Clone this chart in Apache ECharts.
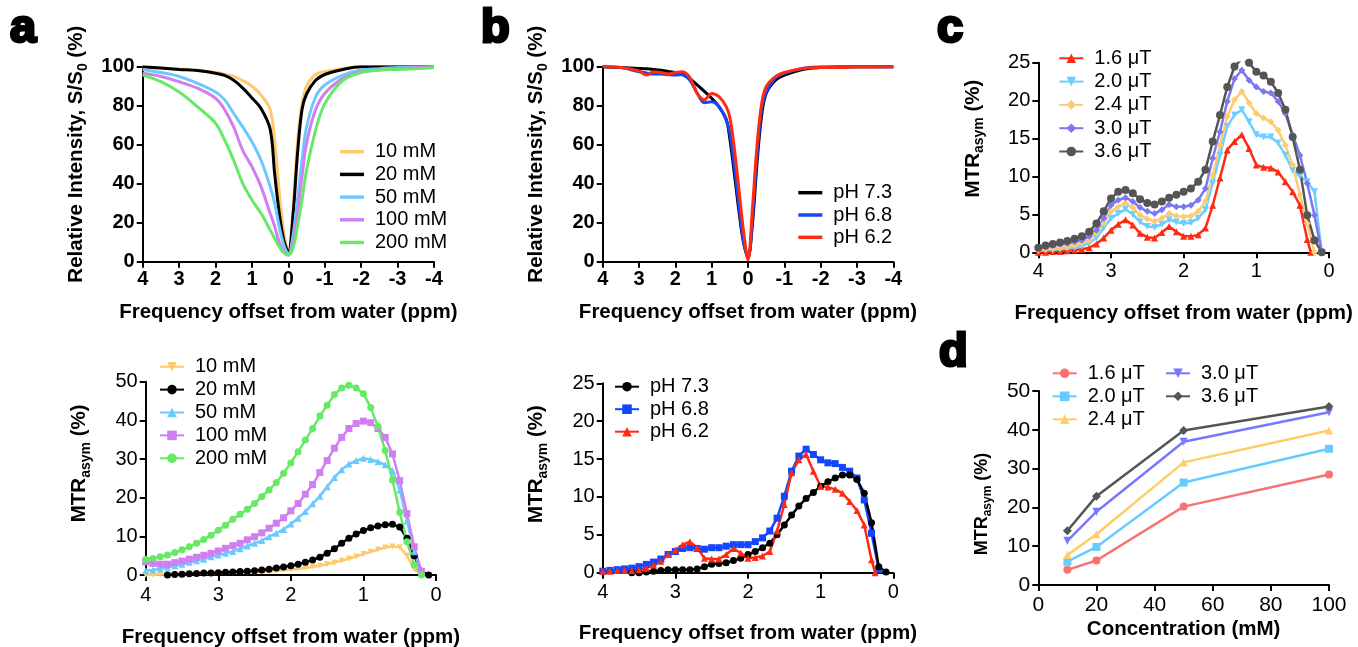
<!DOCTYPE html>
<html><head><meta charset="utf-8">
<script src="https://cdn.jsdelivr.net/npm/echarts@6/dist/echarts.min.js"></script>
<style>html,body{margin:0;padding:0;background:#fff}#c{width:1358px;height:647px}</style>
</head><body><div id="c"></div>
<script>
// ---------- Panel a (top): Z-spectra vs concentration ----------
const aTopX = [4, 3.5, 3, 2.5, 2, 1.75, 1.5, 1.25, 1, 0.75, 0.5, 0.375, 0.25, 0.125, 0, -0.125, -0.25, -0.375, -0.5, -0.75, -1, -1.5, -2, -2.5, -3, -3.5, -4];
const aTop10 = [99.6, 99.2, 98.8, 98.2, 97, 96.2, 95, 92.8, 90, 85.5, 78, 62, 36, 15, 5, 26, 61, 81, 90, 96, 97.5, 99, 100, 100, 100, 100, 100];
const aTop20 = [100, 99.3, 98.6, 98, 96.6, 95.5, 93, 89, 84, 78.6, 68, 45, 25, 11, 5, 23, 55, 78, 86, 93, 96, 98.6, 100, 100, 100, 100, 100];
const aTop50 = [98.6, 97, 95, 91.5, 87, 83, 76, 69, 61.5, 52, 38.5, 30, 18, 8.5, 4, 13, 31.6, 52, 69, 84.6, 90.6, 95.7, 98.3, 99, 99.6, 99.8, 100];
const aTop100 = [96.6, 95, 92.3, 89, 83.8, 78, 69, 57, 48.7, 38.5, 24.8, 18, 10, 5, 3.4, 9.4, 24.8, 43.6, 60.7, 78, 86.3, 94, 97.4, 98.3, 99.1, 99.5, 100];
const aTop200 = [95.7, 92.3, 87, 79.5, 71, 62.4, 52, 40, 31.6, 24.8, 16.2, 12, 7.7, 4.6, 3.4, 6.8, 18, 31.6, 47, 67.5, 81, 93, 97, 98.3, 98.6, 99, 99.6];

// ---------- Panel a (bottom): MTRasym vs concentration ----------
const aBotX = [4.0, 3.9, 3.8, 3.7, 3.6, 3.5, 3.4, 3.3, 3.2, 3.1, 3.0, 2.9, 2.8, 2.7, 2.6, 2.5, 2.4, 2.3, 2.2, 2.1, 2.0, 1.9, 1.8, 1.7, 1.6, 1.5, 1.4, 1.3, 1.2, 1.1, 1.0, 0.9, 0.8, 0.7, 0.6, 0.5, 0.4, 0.3, 0.2, 0.1];
const aBot10 = [0, 0, 0.1, 0.1, 0.2, 0.2, 0.3, 0.3, 0.4, 0.4, 0.5, 0.5, 0.6, 0.7, 0.7, 0.8, 0.9, 1.0, 1.1, 1.3, 1.4, 1.6, 1.8, 2.1, 2.4, 2.8, 3.2, 3.7, 4.2, 4.8, 5.4, 6.0, 6.6, 7.1, 7.4, 7.2, 5.0, 1.5, 0, null];
const aBot20 = [null, null, null, 0, 0.1, 0.2, 0.3, 0.4, 0.5, 0.5, 0.6, 0.7, 0.8, 0.9, 1.0, 1.1, 1.3, 1.5, 1.8, 2.1, 2.4, 2.8, 3.3, 3.9, 4.6, 5.6, 6.8, 8.2, 9.5, 10.6, 11.5, 12.2, 12.7, 13.0, 13.1, 12.4, 9.5, 5.0, 1.0, 0];
const aBot50 = [1.1, 1.3, 1.6, 2.0, 2.4, 2.8, 3.3, 3.7, 4.1, 4.7, 5.2, 5.6, 6.1, 6.8, 7.5, 8.2, 8.9, 9.9, 10.8, 11.8, 13.2, 14.7, 16.4, 18.4, 20.4, 22.8, 25.2, 27.2, 28.7, 29.6, 30.2, 29.9, 29.3, 28.5, 27.0, 22.0, 14.0, 6.0, 0.5, null];
const aBot100 = [3.4, 3.0, 2.8, 2.8, 3.2, 3.6, 4.1, 4.6, 5.1, 5.6, 6.2, 6.9, 7.6, 8.2, 9.1, 9.9, 10.9, 12.1, 13.4, 14.8, 16.6, 18.5, 20.9, 23.4, 26.5, 29.6, 32.8, 35.6, 37.9, 39.2, 39.8, 39.4, 37.9, 35.6, 31.3, 24.4, 15.9, 7.3, 0.9, null];
const aBot200 = [4.1, 4.3, 4.7, 5.2, 5.8, 6.5, 7.3, 8.2, 9.2, 10.3, 11.6, 12.9, 14.4, 15.7, 17.0, 18.5, 20.3, 22.0, 23.9, 26.3, 29.0, 31.9, 34.9, 37.9, 41.1, 43.9, 46.7, 48.4, 49.1, 48.4, 46.9, 43.3, 38.4, 32.2, 24.6, 16.2, 8.6, 2.6, 0, null];

// ---------- Panel b (top): Z-spectra vs pH ----------
const bTopX = [4, 3.5, 3, 2.8, 2.6, 2.4, 2.2, 2, 1.8, 1.6, 1.4, 1.2, 1, 0.8, 0.6, 0.5, 0.375, 0.25, 0.125, 0, -0.125, -0.25, -0.375, -0.5, -0.75, -1, -1.5, -2, -2.5, -3, -4];
const bTop73 = [100, 99.6, 99.1, 98.9, 98.6, 98.2, 97.6, 97, 96, 93.8, 90.7, 87.3, 83.8, 79.5, 73, 63, 45, 26, 10, 2.6, 20, 51, 75, 86.3, 93, 95.7, 98.6, 99.6, 100, 100, 100];
const bTop68 = [100, 99.6, 97.4, 96.8, 96.2, 96.2, 95.9, 95.7, 96, 93, 86.5, 81.5, 82, 79.5, 72.6, 66, 49, 29, 11, 1.7, 23, 55, 78, 87, 94, 96.6, 99.1, 100, 99.8, 100, 100];
const bTop62 = [100, 99.6, 97.8, 95.7, 97.4, 97, 96.2, 97, 97.4, 94.4, 86.3, 83, 86.3, 84.6, 79.5, 74, 58, 37, 16, 0.9, 28, 60, 81, 89.7, 94.9, 97, 99.1, 99.6, 99.6, 99.8, 100];

// ---------- Panel b (bottom): MTRasym vs pH ----------
const bBotX = [4.0, 3.9, 3.8, 3.7, 3.6, 3.5, 3.4, 3.3, 3.2, 3.1, 3.0, 2.9, 2.8, 2.7, 2.6, 2.5, 2.4, 2.3, 2.2, 2.1, 2.0, 1.9, 1.8, 1.7, 1.6, 1.5, 1.4, 1.3, 1.2, 1.1, 1.0, 0.9, 0.8, 0.7, 0.6, 0.5, 0.4, 0.3, 0.25, 0.2, 0.1];
const bBot73 = [null, null, null, null, 0, 0, 0.1, 0.2, 0.3, 0.4, 0.4, 0.4, 0.4, 0.5, 0.8, 1.1, 1.2, 1.3, 1.6, 1.9, 2.4, 2.8, 3.3, 3.9, 5.0, 6.3, 7.6, 8.8, 9.8, 10.6, 11.4, 12.0, 12.5, 12.9, 12.9, 12.3, 10.5, 6.6, null, 0.8, 0.1];
const bBot68 = [0.2, 0.3, 0.4, 0.5, 0.6, 0.8, 1.1, 1.4, 1.8, 2.4, 2.8, 3.2, 3.3, 3.2, 3.1, 3.3, 3.3, 3.5, 3.7, 3.7, 3.7, 4.1, 4.6, 5.5, 7.2, 10.1, 13.4, 15.4, 16.3, 15.6, 14.9, 14.5, 14.4, 13.9, 13.4, 12.5, 9.6, 5.2, null, 0.4, null];
const bBot62 = [0.2, 0.2, 0.3, 0.3, 0.3, 0.4, 0.6, 1.0, 1.5, 2.4, 3.0, 3.7, 4.1, 3.3, 1.9, 1.8, 1.8, 2.4, 3.2, 2.6, 1.9, 2.0, 2.2, 2.8, 5.5, 9.0, 13.2, 14.9, 15.6, 13.4, 11.4, 11.3, 11.0, 10.5, 9.4, 8.2, 6.3, 1.7, 0, null, null];

// ---------- Panel c: MTRasym vs B1 ----------
const cX = [4.0, 3.9, 3.8, 3.7, 3.6, 3.5, 3.4, 3.3, 3.2, 3.1, 3.0, 2.9, 2.8, 2.7, 2.6, 2.5, 2.4, 2.3, 2.2, 2.1, 2.0, 1.9, 1.8, 1.7, 1.6, 1.5, 1.4, 1.3, 1.2, 1.1, 1.0, 0.9, 0.8, 0.7, 0.6, 0.5, 0.4, 0.3, 0.25, 0.2, 0.1];
const c16 = [0, 0, 0.1, 0.1, 0.2, 0.3, 0.4, 0.6, 1.1, 1.9, 2.9, 3.7, 4.3, 3.6, 2.5, 2.0, 1.9, 2.6, 3.4, 2.7, 2.1, 2.1, 2.3, 3.2, 6.2, 9.8, 13.5, 14.6, 15.5, 13.7, 11.5, 11.2, 11.1, 10.6, 9.3, 8.0, 6.2, 1.7, 0, null, null];
const c20 = [0.2, 0.3, 0.3, 0.4, 0.5, 0.6, 0.8, 1.2, 1.9, 3.2, 4.5, 5.1, 5.7, 5.0, 4.0, 3.4, 3.3, 3.7, 4.3, 4.0, 3.8, 3.9, 4.5, 5.6, 9.1, 12.8, 16.6, 18.1, 18.8, 17.2, 15.5, 15.2, 15.2, 14.4, 12.8, 10.8, 10.0, 9.3, null, 8.0, 0];
const c24 = [0.3, 0.4, 0.5, 0.6, 0.7, 0.9, 1.2, 1.6, 2.5, 3.8, 5.4, 6.0, 6.5, 5.9, 4.9, 4.4, 4.1, 4.5, 5.1, 4.8, 4.7, 4.8, 5.4, 6.7, 10.2, 14.1, 17.9, 20.1, 21.2, 19.7, 18.3, 17.7, 17.2, 16.1, 14.1, 11.5, 7.6, 3.8, null, 0, null];
const c30 = [0.5, 0.7, 0.9, 1.1, 1.2, 1.4, 1.6, 2.1, 2.9, 4.5, 6.2, 6.9, 7.2, 6.7, 5.9, 5.4, 5.1, 5.6, 6.3, 6.0, 6.0, 6.2, 6.9, 8.4, 12.4, 15.9, 19.9, 22.9, 24.0, 22.7, 21.8, 21.2, 21.0, 19.9, 18.3, 15.5, 12.8, 9.1, null, 4.9, 0];
const c36 = [0.6, 0.9, 1.1, 1.3, 1.5, 1.8, 2.1, 2.7, 3.8, 5.4, 7.1, 8.0, 8.2, 7.8, 7.0, 6.5, 6.3, 6.7, 7.2, 7.6, 8.0, 8.4, 9.3, 10.9, 14.6, 18.1, 21.8, 24.5, 25.5, 25.0, 23.8, 23.3, 22.5, 21.0, 18.8, 15.2, 10.9, 4.9, null, 1.6, 0];

// ---------- Panel d: MTRasym vs concentration ----------
const dConc = [10, 20, 50, 100];
const d16 = [3.9, 6.3, 20.2, 28.5];
const d20 = [6.0, 9.8, 26.4, 35.1];
const d24 = [7.7, 13.1, 31.6, 39.8];
const d30 = [11.4, 18.9, 36.9, 44.5];
const d36 = [14.0, 22.9, 39.8, 46.0];

// ---------- labels ----------
const concLabels = ['10 mM', '20 mM', '50 mM', '100 mM', '200 mM'];
const phLabels = ['pH 7.3', 'pH 6.8', 'pH 6.2'];
const b1Labels = ['1.6 \u03bcT', '2.0 \u03bcT', '2.4 \u03bcT', '3.0 \u03bcT', '3.6 \u03bcT'];
const freqTitle = 'Frequency offset from water (ppm)';

const F = '"Liberation Sans", Arial, Helvetica, sans-serif';
const pairs = (xs, ys) => xs.map((x, i) => [x, ys[i]]).filter(p => p[1] !== null);

function line(name, gi, xs, ys, color, width, sym, size, rot) {
  const s = {
    type: 'line', name, xAxisIndex: gi, yAxisIndex: gi, data: pairs(xs, ys),
    lineStyle: { color, width }, itemStyle: { color }, animation: false,
    symbol: sym || 'none', symbolSize: size || 7, showSymbol: !!sym
  };
  if (rot) s.symbolRotate = rot;
  return s;
}
function smoothLine(name, gi, xs, ys, color) {
  const s = line(name, gi, xs, ys, color, 3);
  s.smooth = 0.35;
  return s;
}

const grids = [
  { left: 142.7, top: 66.7, width: 291.3, height: 195 },
  { left: 145.7, top: 381.7, width: 290.3, height: 193.3 },
  { left: 602.7, top: 66.7, width: 290.6, height: 195 },
  { left: 602.7, top: 383.3, width: 290.6, height: 189.4 },
  { left: 1038.3, top: 62.7, width: 290.7, height: 189.6 },
  { left: 1038.3, top: 391, width: 290.7, height: 194 }
].map(g => Object.assign({ outerBoundsMode: 'none', containLabel: false }, g));

const axLine = { show: true, onZero: false, lineStyle: { color: '#000', width: 2 } };
const axTick = { show: true, length: 6, lineStyle: { color: '#000', width: 2 } };

function xAx(gi, min, max, interval, inverse, bold, nameGap, margin, fs) {
  return {
    type: 'value', gridIndex: gi, min, max, interval, inverse,
    axisLine: axLine, axisTick: axTick, splitLine: { show: false },
    axisLabel: { color: '#000', fontFamily: F, fontSize: fs || 20, fontWeight: bold ? 'bold' : 'normal', margin },
    name: gi === 5 ? 'Concentration (mM)' : freqTitle, nameLocation: 'middle', nameGap,
    nameTextStyle: { color: '#000', fontFamily: F, fontSize: 20.5, fontWeight: 'bold', lineHeight: 24 }
  };
}
function yAx(gi, max, interval, bold, name, nameGap, shift, fs, tfs) {
  const nfs = fs || 20.5;
  const pad = shift > 0 ? [0, 0, 0, shift] : [0, -shift, 0, 0];
  return {
    type: 'value', gridIndex: gi, min: 0, max, interval,
    axisLine: axLine, axisTick: axTick, splitLine: { show: false },
    axisLabel: { color: '#000', fontFamily: F, fontSize: tfs || 20, fontWeight: bold ? 'bold' : 'normal', margin: 8 },
    name, nameLocation: 'middle', nameGap,
    nameTextStyle: {
      color: '#000', fontFamily: F, fontSize: nfs, fontWeight: 'bold', padding: pad,
      rich: {
        b: { fontFamily: F, fontSize: nfs, fontWeight: 'bold', color: '#000', lineHeight: Math.round(nfs * 1.27) },
        s: { fontFamily: F, fontSize: Math.round(nfs * 0.68), fontWeight: 'bold', color: '#000', lineHeight: Math.round(nfs * 0.68), verticalAlign: 'bottom' }
      }
    }
  };
}
const riName = '{b|Relative Intensity, S/S}{s|0}{b| (%)}';
const mtrName = '{b|MTR}{s|asym}{b| (%)}';

function legend(left, top, names, gap, lineOnly) {
  const l = {
    left, top, padding: 0, orient: 'vertical', itemWidth: 24, itemHeight: 12, itemGap: gap,
    data: names, selectedMode: false,
    formatter: n => n.split('|')[1],
    textStyle: { fontFamily: F, fontSize: 20, color: '#000', lineHeight: 20, padding: [0, 0, 0, 6] }
  };
  if (lineOnly) { l.icon = 'rect'; l.itemHeight = 3.5; }
  return l;
}

const cA = ['#FFC96E', '#000000', '#6CC9FF', '#CF7FF0', '#66EA66'];
const cB = ['#000000', '#1446FF', '#FF2A12'];
const cC = ['#FF2A12', '#6CCFFF', '#FFCB72', '#7B78F0', '#555555'];
const cD = ['#F87272', '#66CCFF', '#FFCC66', '#7878FF', '#555555'];

const aTopVals = [aTop10, aTop20, aTop50, aTop100, aTop200];
const aBotVals = [aBot10, aBot20, aBot50, aBot100, aBot200];
const aBotSym = [['triangle', 6, 180], ['circle', 7], ['triangle', 7], ['rect', 7], ['circle', 7]];
const bTopVals = [bTop73, bTop68, bTop62];
const bBotVals = [bBot73, bBot68, bBot62];
const bBotSym = [['circle', 7], ['rect', 7], ['triangle', 7]];
const cVals = [c16, c20, c24, c30, c36];
const cSym = [['triangle', 7], ['triangle', 7, 180], ['diamond', 7], ['diamond', 7], ['circle', 8]];
const dVals = [d16, d20, d24, d30, d36];
const dSym = [['circle', 8], ['rect', 8], ['triangle', 8], ['triangle', 8, 180], ['diamond', 9]];

const series = [];
const nA1 = [], nA2 = [], nB1 = [], nB2 = [], nC = [], nD = [];
concLabels.forEach((l, i) => {
  nA1.push('a1|' + l); series.push(smoothLine('a1|' + l, 0, aTopX, aTopVals[i], cA[i]));
});
concLabels.forEach((l, i) => {
  nA2.push('a2|' + l); const s = aBotSym[i];
  series.push(line('a2|' + l, 1, aBotX, aBotVals[i], cA[i], 2.5, s[0], s[1], s[2]));
});
phLabels.forEach((l, i) => {
  nB1.push('b1|' + l); series.push(smoothLine('b1|' + l, 2, bTopX, bTopVals[i], cB[i]));
});
[1, 0, 2].forEach(i => {
  const l = phLabels[i]; const s = bBotSym[i];
  series.push(line('b2|' + l, 3, bBotX, bBotVals[i], cB[i], 2.5, s[0], s[1], s[2]));
});
phLabels.forEach(l => nB2.push('b2|' + l));
b1Labels.forEach((l, i) => {
  nC.push('c|' + l); const s = cSym[i];
  series.push(line('c|' + l, 4, cX, cVals[i], cC[i], 2.5, s[0], s[1], s[2]));
});
b1Labels.forEach((l, i) => {
  nD.push('d|' + l); const s = dSym[i];
  series.push(line('d|' + l, 5, dConc, dVals[i], cD[i], 2.5, s[0], s[1], s[2]));
});

function letter(t, x, y) {
  return { type: 'text', x, y, style: { text: t, fontFamily: F, fontSize: 47, fontWeight: 'bold', fill: '#000', stroke: '#000', lineWidth: 3, align: 'left', verticalAlign: 'middle' } };
}

const option = {
  animation: false,
  backgroundColor: '#fff',
  grid: grids,
  xAxis: [
    xAx(0, -4, 4, 1, true, true, 39, 8),
    xAx(1, 0, 4, 1, true, false, 50, 10),
    xAx(2, -4, 4, 1, true, true, 39, 8),
    xAx(3, 0, 4, 1, true, false, 49, 10),
    xAx(4, 0, 4, 1, true, false, 49, 9),
    xAx(5, 0, 100, 20, false, false, 26, 10, 21)
  ],
  yAxis: [
    yAx(0, 100, 20, true, riName, 53, 20),
    yAx(1, 50, 10, false, mtrName, 53, 30),
    yAx(2, 100, 20, true, riName, 53, 20),
    yAx(3, 25, 5, false, mtrName, 53, 28),
    yAx(4, 25, 5, false, mtrName, 52, 38),
    yAx(5, 50, 10, false, mtrName, 45, -32, 18, 21)
  ],
  legend: [
    legend(340, 141.7, nA1, 2.7, true),
    legend(159, 356.7, nA2, 2.9),
    legend(798.3, 182.7, nB1, 2.3, true),
    legend(614, 376.7, nB2, 2.5),
    legend(1058.3, 48.3, nC, 3.3),
    legend(1051.7, 363.3, nD.slice(0, 3), 3),
    legend(1165, 363.3, nD.slice(3), 3)
  ],
  graphic: [letter('a', 10, 29), letter('b', 481, 29), letter('c', 937, 29), letter('d', 939, 353)],
  series
};

const chart = echarts.init(document.getElementById('c'), null, { renderer: 'canvas' });
chart.setOption(option);
</script>
</body></html>
